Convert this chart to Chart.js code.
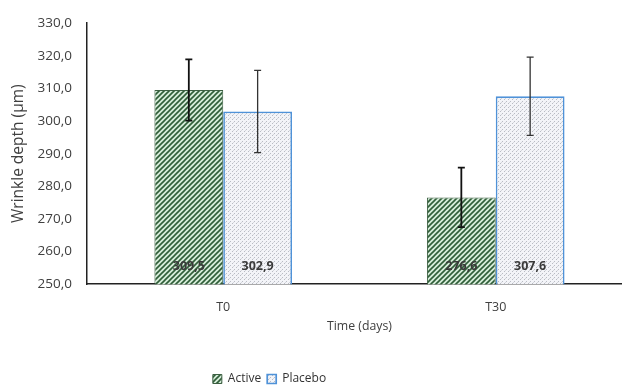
<!DOCTYPE html>
<html>
<head>
<meta charset="utf-8">
<script src="https://cdn.jsdelivr.net/npm/chart.js@4"></script>
<style>
  html, body { margin: 0; padding: 0; background: #fff; overflow: hidden; }
  #wrap { width: 632px; height: 385px; }
</style>
</head>
<body>
<div id="wrap"><canvas id="myChart" width="632" height="385"></canvas></div>
<script>
// Chart data
const categories = ['T0', 'T30'];
const activeValues = [309.5, 276.6];
const placeboValues = [302.9, 307.6];
const activeSD = [9.4, 9.1];
const placeboSD = [12.6, 12.0];
const yTicks = [250, 260, 270, 280, 290, 300, 310, 320, 330];

const fontFamily = '"Open Sans", "Noto Sans", sans-serif';
const textColor = '#404040';

// Hatch patterns
function stripePattern() {
    const c = document.createElement('canvas');
    c.width = 5; c.height = 5;
    const g = c.getContext('2d');
    g.fillStyle = '#d6ecd9';
    g.fillRect(0, 0, 5, 5);
    g.strokeStyle = '#2f5d38';
    g.lineWidth = 1.6;
    g.beginPath();
    g.moveTo(-1, 6); g.lineTo(6, -1);
    g.moveTo(-1, 1); g.lineTo(1, -1);
    g.moveTo(4, 6); g.lineTo(6, 4);
    g.stroke();
    return g.createPattern(c, 'repeat');
}

function dotPattern() {
    const c = document.createElement('canvas');
    c.width = 4; c.height = 4;
    const g = c.getContext('2d');
    g.fillStyle = '#f3f4f8';
    g.fillRect(0, 0, 4, 4);
    g.fillStyle = '#b9bcc4';
    g.fillRect(0, 3, 1, 1);
    g.fillRect(2, 1, 1, 1);
    g.fillStyle = '#d4d6dc';
    g.fillRect(1, 2, 1, 1);
    return g.createPattern(c, 'repeat');
}

// Error bars and value labels
const errorBars = {
    id: 'errorBars',
    afterDatasetsDraw(chart) {
        const ctx = chart.ctx;
        const y = chart.scales.y;
        const sds = [activeSD, placeboSD];
        chart.data.datasets.forEach((ds, i) => {
            chart.getDatasetMeta(i).data.forEach((bar, j) => {
                const v = ds.data[j];
                const top = y.getPixelForValue(v + sds[i][j]);
                const bot = y.getPixelForValue(v - sds[i][j]);
                ctx.save();
                ctx.strokeStyle = i === 0 ? '#111' : '#333';
                ctx.lineWidth = i === 0 ? 1.8 : 1.3;
                ctx.beginPath();
                ctx.moveTo(bar.x, top); ctx.lineTo(bar.x, bot);
                ctx.moveTo(bar.x - 3.5, top); ctx.lineTo(bar.x + 3.5, top);
                ctx.moveTo(bar.x - 3.5, bot); ctx.lineTo(bar.x + 3.5, bot);
                ctx.stroke();
                ctx.fillStyle = '#3a3a3a';
                ctx.font = 'bold 12.5px ' + fontFamily;
                ctx.textAlign = 'center';
                ctx.textBaseline = 'middle';
                ctx.fillText(v.toFixed(1).replace('.', ','), bar.x, chart.chartArea.bottom - 18);
                ctx.restore();
            });
        });
    }
};

// Legend sits a little left of the canvas centre
const legendShift = {
    id: 'legendShift',
    afterLayout(chart) {
        chart.legend.left -= 51;
        chart.legend.right -= 51;
    }
};

document.addEventListener('DOMContentLoaded', function () {
    const ctx = document.getElementById('myChart').getContext('2d');
    const activeFill = stripePattern();
    const placeboFill = dotPattern();

    new Chart(ctx, {
        type: 'bar',
        data: {
            labels: categories,
            datasets: [{
                label: 'Active',
                data: activeValues,
                backgroundColor: activeFill,
                borderColor: '#3c5f42',
                borderWidth: 1
            }, {
                label: 'Placebo',
                data: placeboValues,
                backgroundColor: placeboFill,
                borderColor: '#4f92d8',
                borderWidth: 1.7
            }]
        },
        options: {
            responsive: false,
            animation: false,
            layout: { padding: { top: 19, left: 9, right: 0, bottom: -10 } },
            datasets: { bar: { barPercentage: 1, categoryPercentage: 0.505 } },
            scales: {
                x: {
                    grid: { display: false, drawTicks: false },
                    border: { color: '#222', width: 1.5 },
                    ticks: { color: textColor, font: { family: fontFamily, size: 12.5 }, padding: 16 },
                    title: {
                        display: true,
                        text: 'Time (days)',
                        color: textColor,
                        font: { family: fontFamily, size: 12.3 },
                        padding: { top: -12, bottom: 33 }
                    }
                },
                y: {
                    min: 250,
                    max: 330,
                    afterBuildTicks: axis => { axis.ticks = yTicks.map(v => ({ value: v })); },
                    grid: { display: false, drawTicks: false },
                    border: { color: '#222', width: 1.5 },
                    ticks: {
                        color: textColor,
                        font: { family: fontFamily, size: 13.5 },
                        padding: 15,
                        callback: v => v.toFixed(1).replace('.', ',')
                    },
                    title: {
                        display: true,
                        text: 'Wrinkle depth (µm)',
                        color: textColor,
                        font: { family: fontFamily, size: 15.5 },
                        padding: { top: 0, bottom: -5 }
                    }
                }
            },
            plugins: {
                legend: {
                    position: 'bottom',
                    labels: {
                        color: '#333',
                        font: { family: fontFamily, size: 12 },
                        boxWidth: 9,
                        boxHeight: 9,
                        padding: 6
                    }
                },
                tooltip: { enabled: false }
            }
        },
        plugins: [errorBars, legendShift]
    });
});
</script>
</body>
</html>
